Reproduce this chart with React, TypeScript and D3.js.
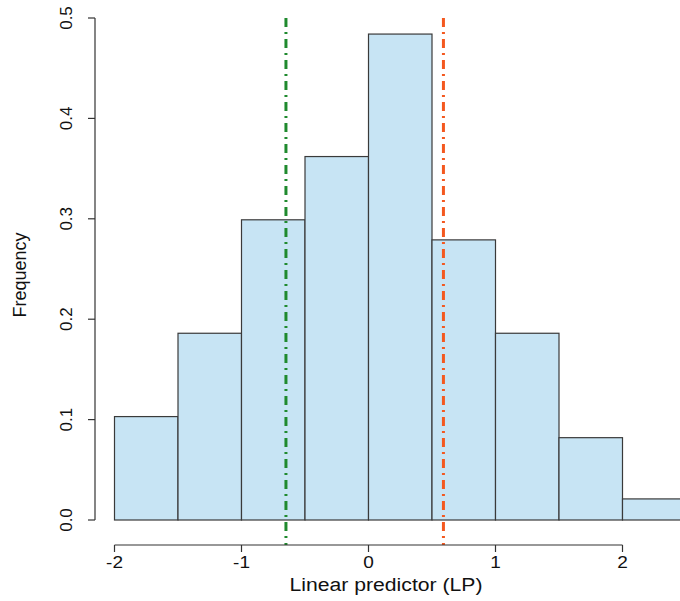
import React from 'react';
import * as d3 from 'd3';

const WIDTH = 680;
const HEIGHT = 601;

const binStarts = [-2, -1.5, -1, -0.5, 0, 0.5, 1, 1.5, 2];
const binWidth = 0.5;
const frequencies = [0.103, 0.186, 0.299, 0.362, 0.484, 0.279, 0.186, 0.082, 0.021];
const xTicks = [-2, -1, 0, 1, 2];
const yTicks = [0, 0.1, 0.2, 0.3, 0.4, 0.5];
const refLines = [
  { value: -0.65, color: '#1f8a2e' },
  { value: 0.59, color: '#f4581f' },
];

const FONT = 'Liberation Sans, Arial, sans-serif';

export default function App() {
  const x = d3.scaleLinear().domain([-2, 2]).range([114.5, 622.5]);
  const y = d3.scaleLinear().domain([0, 0.5]).range([520, 18]);
  const axisY = 545;
  const axisX = 95;

  return (
    <svg
      width={WIDTH}
      height={HEIGHT}
      style={{ position: 'absolute', left: 0, top: 0, background: '#fff' }}
      fontFamily={FONT}
    >
      {/* bars */}
      {binStarts.map((b, i) => (
        <rect
          key={i}
          x={x(b)}
          y={y(frequencies[i])}
          width={x(b + binWidth) - x(b)}
          height={y(0) - y(frequencies[i])}
          fill="#c7e4f4"
          stroke="#3a3a3a"
          strokeWidth={1.2}
        />
      ))}

      {/* reference lines */}
      {refLines.map((l, i) => (
        <line
          key={i}
          x1={x(l.value)}
          x2={x(l.value)}
          y1={18}
          y2={axisY}
          stroke={l.color}
          strokeWidth={3}
          strokeDasharray="9,5,2,5"
        />
      ))}

      {/* x axis */}
      <line x1={x(-2)} x2={x(2)} y1={axisY} y2={axisY} stroke="#333" strokeWidth={1.2} />
      {xTicks.map((t) => (
        <g key={t}>
          <line x1={x(t)} x2={x(t)} y1={axisY} y2={axisY + 7} stroke="#333" strokeWidth={1.2} />
          <text
            transform={`translate(${x(t)},${axisY + 23}) scale(1.12,1)`}
            textAnchor="middle"
            fontSize={17}
            fill="#111"
          >
            {t}
          </text>
        </g>
      ))}
      <text
        x={386}
        y={591}
        textAnchor="middle"
        fontSize={18}
        fill="#111"
        textLength={193}
        lengthAdjust="spacingAndGlyphs"
      >
        Linear predictor (LP)
      </text>

      {/* y axis */}
      <line x1={axisX} x2={axisX} y1={y(0)} y2={y(0.5)} stroke="#333" strokeWidth={1.2} />
      {yTicks.map((t) => (
        <g key={t}>
          <line x1={axisX - 7} x2={axisX} y1={y(t)} y2={y(t)} stroke="#333" strokeWidth={1.2} />
          <text
            transform={`translate(${axisX - 23},${y(t)}) rotate(-90)`}
            textAnchor="middle"
            fontSize={17}
            fill="#111"
          >
            {t.toFixed(1)}
          </text>
        </g>
      ))}
      <text
        transform={`translate(26,275) rotate(-90)`}
        textAnchor="middle"
        fontSize={18}
        fill="#111"
      >
        Frequency
      </text>
    </svg>
  );
}
